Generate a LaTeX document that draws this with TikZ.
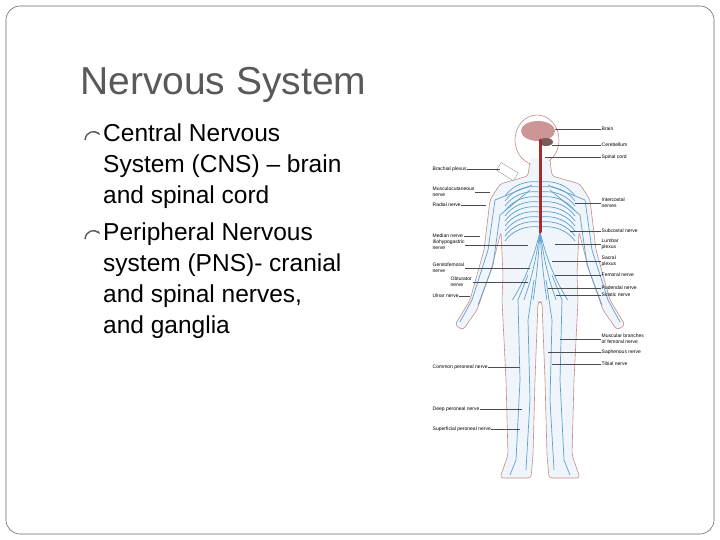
\documentclass[tikz,border=0pt]{standalone}
\usepackage{fontspec}
\setmainfont{Liberation Sans}
\usetikzlibrary{arrows.meta, positioning}
\definecolor{titlegray}{RGB}{89,89,89}
\definecolor{skin}{RGB}{196,140,130}
\definecolor{nerve}{RGB}{95,160,205}
\definecolor{cord}{RGB}{165,45,45}
\definecolor{brainpink}{RGB}{205,150,150}
\tikzstyle{title} = [anchor=north west, text=titlegray, font=\fontsize{39}{39}\selectfont, inner sep=0pt]
\tikzstyle{bullet} = [anchor=north west, font=\fontsize{24.5}{31}\selectfont, align=left, inner sep=0pt]
\tikzstyle{lbl} = [font=\fontsize{5}{5.6}\selectfont, align=left, inner sep=0.5pt]
\tikzstyle{lead} = [black!70, line width=0.3pt]
\tikzstyle{nv} = [nerve, line width=0.7pt]

\begin{document}
\begin{tikzpicture}[x=1pt, y=-1pt]
    \useasboundingbox (0,0) rectangle (720,540);
    \draw[black!60, rounded corners=14pt, line width=0.6pt] (6,6) rectangle (714,534);

    % title and bullets
    \node[title] (ttl) at (80,67) {Nervous System};
    \node[bullet] (cns) at (103,124) {Central Nervous\\System (CNS) -- brain\\and spinal cord};
    \node[bullet] (pns) at (103,223) {Peripheral Nervous\\system (PNS)- cranial\\and spinal nerves,\\and ganglia};
    \foreach \by in {134,233}
        \draw[titlegray, line width=1.4pt, -{Stealth[length=3.5pt]}] (85,\by+6) .. controls (86,\by-3) and (95,\by-4) .. (100,\by+1);

    % body
    \draw[skin, fill=nerve!10, line width=0.6pt, rounded corners=3pt]
        (530,160) -- (528,176) -- (500,184) -- (490,200) -- (484,250) -- (470,300) -- (455,325) -- (463,330)
        -- (477,310) -- (491,270) -- (501,232) -- (503,275) -- (502,300) -- (506,380) -- (508,455) -- (500,478)
        -- (531,478) -- (533,455) -- (535,380) -- (538,302) -- (542,302) -- (545,380) -- (547,455) -- (549,478)
        -- (580,478) -- (572,455) -- (574,380) -- (578,300) -- (577,275) -- (579,232) -- (589,270) -- (603,310)
        -- (617,330) -- (625,325) -- (610,300) -- (596,250) -- (590,200) -- (580,184) -- (552,176) -- (550,160);
    \draw[skin, fill=white, line width=0.6pt] (537,140) ellipse [x radius=22, y radius=25];
    \fill[nerve!10] (531,158) rectangle (549,178);
    \draw[black!40, fill=white, rotate around={-32:(507,172)}] (497,167) rectangle (517,176);
    \fill[brainpink] (538,131) ellipse [x radius=17, y radius=10];
    \fill[brainpink!60!black] (546,142) ellipse [x radius=7, y radius=4];

    % nerves
    \foreach \i in {0,...,9} {
        \draw[nv] (540,182+\i*5) .. controls (525,180+\i*5) and (512,186+\i*5) .. (505,196+\i*5);
        \draw[nv] (540,182+\i*5) .. controls (555,180+\i*5) and (568,186+\i*5) .. (575,196+\i*5);
    }
    \foreach \dx in {-12,-7,-3,3,7,12}
        \draw[nv] (540,232) .. controls (540+\dx*0.5,255) and (540+\dx,275) .. (540+\dx*2.3,300);
    \foreach \s in {1,-1} {
        \draw[nv] (540+\s*8,185) -- (540+\s*45,200) -- (540+\s*52,250) -- (540+\s*68,300) -- (540+\s*80,322);
        \draw[nv] (540+\s*10,190) -- (540+\s*40,215) -- (540+\s*47,265) -- (540+\s*62,305);
        \draw[nv] (540+\s*12,275) -- (540+\s*22,300) -- (540+\s*20,380) -- (540+\s*24,460) -- (540+\s*30,475);
        \draw[nv] (540+\s*6,280) -- (540+\s*12,320) -- (540+\s*10,400) -- (540+\s*14,470);
    }
    \draw[cord, line width=3pt, line cap=round] (540,140) -- (540,232);

    % labels, right side
    \foreach \n/\y/\t/\e in {br/129/Brain/555, cb/145/Cerebellum/552, sc/157/Spinal cord/545,
        ic/203/Intercostal\\nerves/575, sub/231/Subcostal nerve/570, lp/244/Lumbar\\plexus/555,
        sp/261/Sacral\\plexus/552, fe/275/Femoral nerve/555, pu/288/Pudendal nerve/548, sci/295/Sciatic nerve/556,
        mb/339/Muscular branches\\of femoral nerve/560, sa/352/Saphenous nerve/548, ti/364/Tibial nerve/552} {
        \node[lbl, anchor=west] (r\n) at (601,\y) {\t};
        \coordinate (re\n) at (\e,\y);
        \draw[lead] (r\n.west) -- (re\n);
    }
    % labels, left side
    \foreach \n/\y/\t/\e/\x in {bp/169/Brachial plexus/500/432, mc/192/Musculocutaneous\\nerve/490/432,
        rn/205/Radial nerve/486/432, mn/236/Median nerve/480/432, ih/245/Iliohypogastric\\nerve/528/432,
        gf/268/Genitofemoral\\nerve/530/432, ob/282/Obturator\\nerve/528/450, un/296/Ulnar nerve/470/432,
        cp/367/Common peroneal nerve/520/432, dp/409/Deep peroneal nerve/522/432,
        sf/429/Superficial peroneal nerve/520/432} {
        \node[lbl, anchor=west] (l\n) at (\x,\y) {\t};
        \coordinate (le\n) at (\e,\y);
        \draw[lead] (l\n.east) -- (le\n);
    }
\end{tikzpicture}
\end{document}
